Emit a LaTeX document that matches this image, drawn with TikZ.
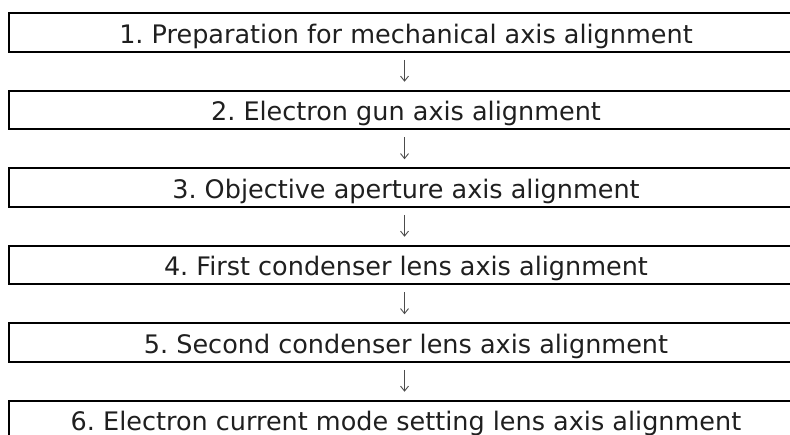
\documentclass[tikz,border=0pt]{standalone}
\usepackage{fontspec}
\setmainfont{DejaVu Sans}
\usetikzlibrary{arrows.meta}
\begin{document}
\frenchspacing
\begin{tikzpicture}[x=1pt,y=1pt,
  stepbox/.style={draw=black,line width=2pt,minimum width=794pt,minimum height=38.7pt,
    inner sep=0pt,text height=20.8pt,text depth=0pt,anchor=center,text=black!88,
    font=\fontsize{25.5pt}{28pt}\selectfont},
  flow/.style={line width=0.9pt,draw=black!70,-{Straight Barb[length=5pt,width=8pt,line width=0.9pt]},
    shorten <=7pt,shorten >=8pt}]
\useasboundingbox (0,0) rectangle (790,-434);
\node[stepbox] (s1) at (406,-32.6) {1. Preparation for mechanical axis alignment};
\node[stepbox] (s2) at (406,-110.1) {2. Electron gun axis alignment};
\node[stepbox] (s3) at (406,-187.6) {3. Objective aperture axis alignment};
\node[stepbox] (s4) at (406,-265.1) {4. First condenser lens axis alignment};
\node[stepbox] (s5) at (406,-342.6) {5. Second condenser lens axis alignment};
\node[stepbox] (s6) at (406,-420.1) {6. Electron current mode setting lens axis alignment};
\draw[flow] ([xshift=-1.5pt]s1.south) -- ([xshift=-1.5pt]s2.north);
\draw[flow] ([xshift=-1.5pt]s2.south) -- ([xshift=-1.5pt]s3.north);
\draw[flow] ([xshift=-1.5pt]s3.south) -- ([xshift=-1.5pt]s4.north);
\draw[flow] ([xshift=-1.5pt]s4.south) -- ([xshift=-1.5pt]s5.north);
\draw[flow] ([xshift=-1.5pt]s5.south) -- ([xshift=-1.5pt]s6.north);
\end{tikzpicture}
\end{document}
